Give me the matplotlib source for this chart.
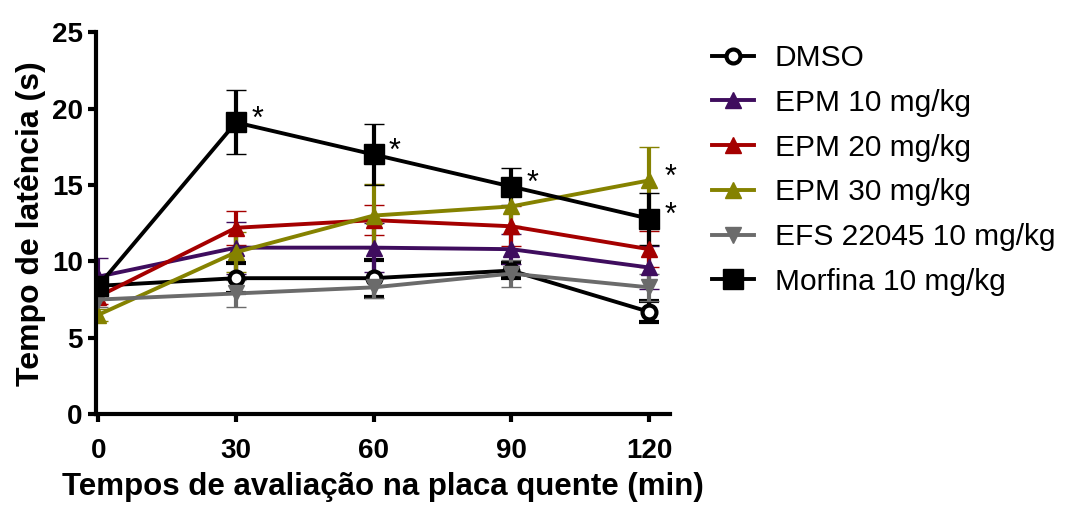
import matplotlib.pyplot as plt

plt.rcParams['font.family'] = ['Liberation Sans', 'DejaVu Sans']

tempos = [0, 30, 60, 90, 120]

dmso = [8.4, 8.9, 8.9, 9.4, 6.7]
dmso_err = [0.5, 1.0, 1.2, 0.5, 0.7]
epm10 = [9.0, 10.9, 10.9, 10.8, 9.6]
epm10_err = [1.2, 1.7, 1.6, 1.0, 1.4]
epm20 = [7.7, 12.2, 12.7, 12.3, 10.8]
epm20_err = [0.5, 1.1, 1.0, 1.3, 1.2]
epm30 = [6.5, 10.6, 13.0, 13.6, 15.3]
epm30_err = [0.4, 1.3, 2.1, 1.3, 2.2]
efs = [7.5, 7.9, 8.3, 9.2, 8.3]
efs_err = [0.5, 0.9, 0.7, 0.9, 0.9]
morfina = [8.4, 19.1, 17.0, 14.9, 12.8]
morfina_err = [0.6, 2.1, 2.0, 1.2, 1.7]

# pontos com diferenca significativa (indice do tempo)
sig_morfina = [1, 2, 3, 4]
sig_epm30 = [4]

series = [
    ('DMSO', dmso, dmso_err, 'black', 'o'),
    ('EPM 10 mg/kg', epm10, epm10_err, '#3f0d5e', '^'),
    ('EPM 20 mg/kg', epm20, epm20_err, '#a50000', '^'),
    ('EPM 30 mg/kg', epm30, epm30_err, '#858200', '^'),
    ('EFS 22045 10 mg/kg', efs, efs_err, '#6b6b6b', 'v'),
    ('Morfina 10 mg/kg', morfina, morfina_err, 'black', 's'),
]

fig = plt.figure(figsize=(10.69, 5.05), dpi=100)
ax = fig.add_axes([0.0898, 0.180, 0.537, 0.756])

for nome, y, err, cor, mk in series:
    if mk == 'o':
        ms, mfc, mew = 10, 'white', 3
    elif mk == 's':
        ms, mfc, mew = 14, cor, 1
    else:
        ms, mfc, mew = 11, cor, 1
    ax.errorbar(tempos, y, yerr=err, color=cor, marker=mk, markersize=ms,
                markerfacecolor=mfc, markeredgecolor=cor, markeredgewidth=mew,
                linewidth=2.8, elinewidth=3, capsize=7, capthick=3,
                label=nome)

for i in sig_morfina:
    ax.annotate('*', (tempos[i], morfina[i]), xytext=(11, -9),
                textcoords='offset points', fontsize=22, ha='left', va='bottom')
for i in sig_epm30:
    ax.annotate('*', (tempos[i], epm30[i]), xytext=(11, -9),
                textcoords='offset points', fontsize=22, ha='left', va='bottom')

ax.set_xlim(-0.5, 124.6)
ax.set_ylim(0, 25)
ax.set_xticks(tempos)
ax.set_yticks([0, 5, 10, 15, 20, 25])
for s in ['top', 'right']:
    ax.spines[s].set_visible(False)
for s in ['left', 'bottom']:
    ax.spines[s].set_linewidth(3)
ax.tick_params(width=3, length=6, labelsize=20)
ax.tick_params(axis='x', pad=11)
for lbl in ax.get_xticklabels() + ax.get_yticklabels():
    lbl.set_fontweight('bold')

ax.set_xlabel('Tempos de avaliação na placa quente (min)', fontsize=22.5,
              fontweight='bold', labelpad=6)
ax.set_ylabel('Tempo de latência (s)', fontsize=23, fontweight='bold', labelpad=4)

handles, labels = ax.get_legend_handles_labels()
handles = [h[0] for h in handles]
fig.legend(handles, labels, loc='upper left', bbox_to_anchor=(0.652, 0.942),
           frameon=False, fontsize=21.5, handlelength=1.4, handletextpad=0.7,
           labelspacing=0.56, borderpad=0)

fig.savefig('out.png', dpi=100)
